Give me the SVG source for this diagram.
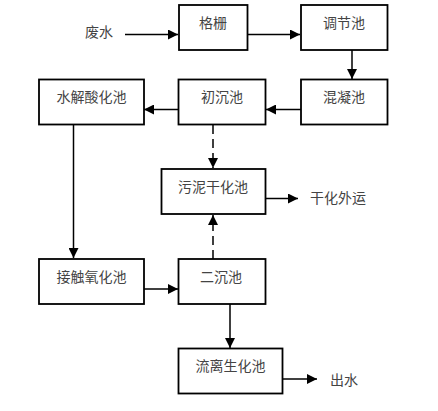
<svg xmlns="http://www.w3.org/2000/svg" width="438" height="411" viewBox="0 0 438 411">
<style>
.box{fill:#fff;stroke:#000;stroke-width:1.8}
.t{font-family:"Noto Sans CJK SC","Liberation Serif",serif;font-size:14px;fill:#444;text-anchor:middle}
.l{font-family:"Noto Sans CJK SC","Liberation Serif",serif;font-size:14px;fill:#444}
.c{stroke:#000;stroke-width:1.5;fill:none}
.d{stroke-dasharray:9 5}
</style>
<defs>
<marker id="a" viewBox="0 0 10 10" refX="10" refY="5" markerWidth="10" markerHeight="10" markerUnits="userSpaceOnUse" orient="auto">
<path d="M0,0 L10,5 L0,10 Z" fill="#000"/>
</marker>
</defs>
<rect width="438" height="411" fill="#fff"/>
<g id="connectors">
<line class="c" x1="125" y1="34.5" x2="178" y2="34.5" marker-end="url(#a)"/>
<line class="c" x1="248" y1="34.5" x2="300" y2="34.5" marker-end="url(#a)"/>
<line class="c" x1="352" y1="50" x2="352" y2="79" marker-end="url(#a)"/>
<line class="c" x1="301" y1="109.5" x2="266" y2="109.5" marker-end="url(#a)"/>
<line class="c" x1="178" y1="109.5" x2="144" y2="109.5" marker-end="url(#a)"/>
<line class="c d" x1="213" y1="125" x2="213" y2="168" marker-end="url(#a)"/>
<line class="c" x1="266" y1="198.5" x2="298" y2="198.5" marker-end="url(#a)"/>
<line class="c" x1="73.5" y1="124" x2="73.5" y2="258" marker-end="url(#a)"/>
<line class="c" x1="144" y1="289" x2="178" y2="289" marker-end="url(#a)"/>
<line class="c d" x1="213" y1="259" x2="213" y2="215" marker-end="url(#a)"/>
<line class="c" x1="230" y1="304" x2="230" y2="348" marker-end="url(#a)"/>
<line class="c" x1="283" y1="379" x2="317" y2="379" marker-end="url(#a)"/>
</g>
<text class="l" x="85" y="37">废水</text>
<g id="geshan"><rect class="box" x="179" y="5" width="68.5" height="45"/><text class="t" x="213" y="28">格栅</text></g>
<g id="tiaojie"><rect class="box" x="301" y="5" width="86.5" height="45"/><text class="t" x="344" y="28">调节池</text></g>
<g id="hunning"><rect class="box" x="301" y="79.5" width="86.5" height="45"/><text class="t" x="344" y="102">混凝池</text></g>
<g id="chuchen"><rect class="box" x="178.5" y="79.5" width="87" height="45"/><text class="t" x="222" y="102">初沉池</text></g>
<g id="shuijie"><rect class="box" x="39" y="79.5" width="105" height="45"/><text class="t" x="91.5" y="102">水解酸化池</text></g>
<g id="wuni"><rect class="box" x="161.5" y="169" width="104" height="45"/><text class="t" x="213" y="191.5">污泥干化池</text></g>
<text class="l" x="310" y="203">干化外运</text>
<g id="jiechu"><rect class="box" x="39" y="259" width="105" height="45"/><text class="t" x="91.5" y="281.5">接触氧化池</text></g>
<g id="erchen"><rect class="box" x="178.5" y="259" width="87" height="45"/><text class="t" x="221" y="281.5">二沉池</text></g>
<g id="liuli"><rect class="box" x="178.5" y="348.5" width="104" height="45"/><text class="t" x="230.5" y="371">流离生化池</text></g>
<text class="l" x="330" y="385">出水</text>
</svg>
